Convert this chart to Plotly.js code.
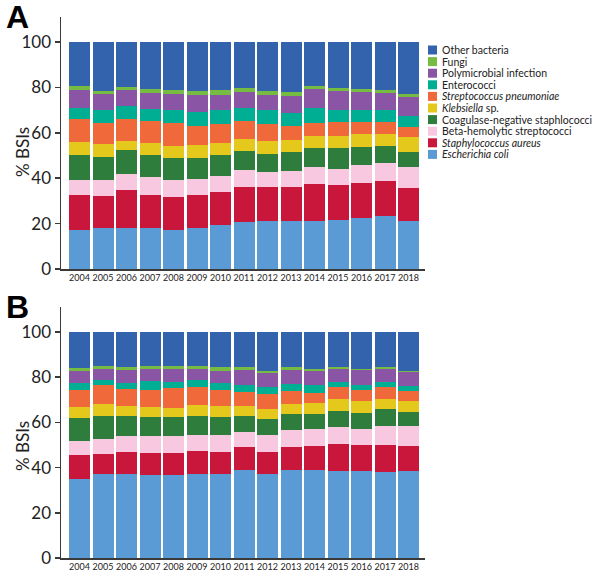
<!DOCTYPE html>
<html>
<head>
<meta charset="utf-8">
<script src="https://cdn.plot.ly/plotly-3.0.1.min.js"></script>
<style>html,body{margin:0;padding:0;background:#fff;}#chart{width:600px;height:587px;}</style>
</head>
<body>
<div id="chart"></div>
<script>
var years = ["2004","2005","2006","2007","2008","2009","2010","2011","2012","2013","2014","2015","2016","2017","2018"];

// Categories, bottom of stack first
var categories = ["Escherichia coli","Staphylococcus aureus","Beta-hemolytic streptococci","Coagulase-negative staphlococci","Klebsiella sp.","Streptococcus pneumoniae","Enterococci","Polymicrobial infection","Fungi","Other bacteria"];
var legendLabels = ["<i>Escherichia coli</i>","<i>Staphylococcus aureus</i>","Beta-hemolytic streptococci","Coagulase-negative staphlococci","<i>Klebsiella</i> sp.","<i>Streptococcus pneumoniae</i>","Enterococci","Polymicrobial infection","Fungi","Other bacteria"];

// Panel A values (% BSIs)
var A_ecoli   = [17.0,17.9,17.9,17.9,17.2,18.1,19.6,20.9,21.2,21.2,21.2,21.6,22.5,23.2,21.2];
var A_saureus = [15.4,14.1,16.7,14.9,14.4,14.5,14.2,15.4,15.1,14.8,16.3,15.6,15.3,15.5,14.5];
var A_betahem = [6.6,7.0,7.4,7.6,7.4,7.1,7.1,7.1,6.6,7.1,7.4,6.9,8.1,7.9,9.2];
var A_cons    = [11.0,10.3,10.2,10.0,9.8,9.3,9.1,8.4,7.7,8.4,8.3,9.1,7.8,7.4,6.6];
var A_kleb    = [5.9,5.6,4.4,5.0,5.6,5.6,5.7,5.6,6.0,5.4,5.3,5.6,5.7,5.6,6.6];
var A_pneumo  = [10.3,9.4,9.6,9.6,10.0,8.6,8.0,7.6,7.1,6.3,5.9,5.9,5.5,5.3,4.4];
var A_entero  = [4.8,5.6,5.4,5.6,5.5,5.9,6.2,5.9,6.2,5.6,6.5,5.4,5.2,5.2,4.9];
var A_poly    = [8.0,7.0,7.1,7.0,7.2,7.4,6.9,7.0,6.9,7.2,8.2,8.1,7.8,7.5,8.3];
var A_fungi   = [1.6,1.3,1.4,1.7,1.9,1.9,1.9,1.8,1.6,1.9,1.5,1.5,1.2,1.1,1.2];
var A_other   = [19.4,21.8,19.9,20.7,21.0,21.6,21.3,20.3,21.6,22.1,19.4,20.3,20.9,21.3,23.1];

// Panel B values (% BSIs)
var B_ecoli   = [35.0,37.0,37.0,36.8,36.8,37.3,37.3,38.9,37.0,38.7,38.7,38.4,38.4,38.1,38.4];
var B_saureus = [10.5,8.8,10.0,9.7,9.7,10.0,9.5,10.1,10.0,10.3,10.8,11.8,11.4,11.7,11.1];
var B_betahem = [6.2,6.9,6.9,7.4,7.4,7.0,7.8,6.8,7.6,7.6,7.6,7.7,7.3,8.5,8.8];
var B_cons    = [10.0,10.3,9.1,8.5,8.4,8.7,7.8,7.2,6.7,7.2,6.7,7.3,7.1,7.4,6.2];
var B_kleb    = [5.2,5.2,4.2,4.3,4.1,4.5,4.8,4.2,4.8,4.4,4.8,5.2,5.2,4.8,4.9];
var B_pneumo  = [7.6,8.1,7.6,7.4,8.9,8.2,7.3,6.1,6.5,5.6,4.4,5.2,4.8,5.1,4.4];
var B_entero  = [2.7,2.6,2.7,4.1,2.5,3.2,2.7,3.4,3.1,3.2,3.4,2.2,2.5,2.2,2.2];
var B_poly    = [5.4,4.9,5.6,5.5,5.6,4.9,5.7,6.4,6.2,6.1,6.2,5.9,6.4,5.9,6.3];
var B_fungi   = [1.5,1.3,1.3,1.1,1.4,1.0,1.5,1.3,1.0,1.3,1.1,0.8,0.7,0.8,0.6];
var B_other   = [15.9,14.9,15.6,15.2,15.2,15.2,15.6,15.6,17.1,15.6,16.3,15.5,16.2,15.5,17.1];

var colors = ["#5b9bd5","#c8173a","#f7c8df","#2f7d3c","#e5c81c","#f0693a","#00ae94","#8a55a5","#76bc43","#3463ae"];

var seriesA = [A_ecoli,A_saureus,A_betahem,A_cons,A_kleb,A_pneumo,A_entero,A_poly,A_fungi,A_other];
var seriesB = [B_ecoli,B_saureus,B_betahem,B_cons,B_kleb,B_pneumo,B_entero,B_poly,B_fungi,B_other];

var traces = [];
seriesA.forEach(function(vals,i){
  traces.push({type:"bar",x:years,y:vals,name:categories[i],marker:{color:colors[i],line:{width:0}},xaxis:"x",yaxis:"y",showlegend:false,hoverinfo:"name+y"});
});
seriesB.forEach(function(vals,i){
  traces.push({type:"bar",x:years,y:vals,name:categories[i],marker:{color:colors[i],line:{width:0}},xaxis:"x2",yaxis:"y2",showlegend:false,hoverinfo:"name+y"});
});

// pixel -> paper helpers (plot area: left 61, width 364, top 17, height 541)
var L=61, W=364, T=17, H=541;
function px(x){return (x-L)/W;}
function py(y){return (T+H-y)/H;}

var FONT = "Lato, 'Open Sans', sans-serif";
var axisCommon = {
  showline:true, linecolor:"#3a3a3a", linewidth:1.5, showgrid:false, zeroline:false
};
function xax(anchor){
  return Object.assign({}, axisCommon, {anchor:anchor, type:"category", range:[-0.79,14.7], ticks:"", tickangle:0, tickfont:{family:FONT,size:9,color:"#222"}, fixedrange:true});
}
function yax(anchor, dom){
  return Object.assign({}, axisCommon, {anchor:anchor, domain:dom, range:[0,111], tickvals:[0,20,40,60,80,100], ticks:"outside", ticklen:5, tickwidth:1.5, tickcolor:"#3a3a3a", tickfont:{family:FONT,size:17,color:"#222"}});
}

var annotations = [
  {text:"<b>A</b>", xref:"paper", yref:"paper", x:px(17), y:py(17), xanchor:"center", yanchor:"middle", showarrow:false, font:{family:"Arial, 'Liberation Sans', sans-serif", size:32, color:"#000"}},
  {text:"<b>B</b>", xref:"paper", yref:"paper", x:px(17), y:py(307), xanchor:"center", yanchor:"middle", showarrow:false, font:{family:"Arial, 'Liberation Sans', sans-serif", size:32, color:"#000"}},
  {text:"% BSIs", xref:"paper", yref:"paper", x:px(22), y:py(152), xanchor:"center", yanchor:"middle", textangle:-90, showarrow:false, font:{family:FONT,size:17,color:"#222"}},
  {text:"% BSIs", xref:"paper", yref:"paper", x:px(22), y:py(446), xanchor:"center", yanchor:"middle", textangle:-90, showarrow:false, font:{family:FONT,size:17,color:"#222"}}
];
var shapes = [];
// legend built from categories (top entry = last category)
for (var k=0;k<categories.length;k++){
  var idx = categories.length-1-k;
  var cy = 50 + k*11.6;
  shapes.push({type:"rect", xref:"paper", yref:"paper", x0:px(428), x1:px(437), y0:py(cy+4.5), y1:py(cy-4.5), fillcolor:colors[idx], line:{width:0}});
  annotations.push({text:legendLabels[idx], xref:"paper", yref:"paper", x:px(441), y:py(cy), xanchor:"left", yanchor:"middle", showarrow:false, borderpad:0, font:{family:FONT,size:10.5,color:"#222"}});
}

var layout = {
  width:600, height:587,
  margin:{l:L, r:600-L-W, t:T, b:587-T-H},
  paper_bgcolor:"#fff", plot_bgcolor:"#fff",
  barmode:"stack", bargap:0.11,
  showlegend:false,
  xaxis:xax("y"),
  yaxis:yax("x",[py(269),1]),
  xaxis2:xax("y2"),
  yaxis2:yax("x2",[0,py(307)]),
  annotations:annotations,
  shapes:shapes,
  font:{family:FONT}
};

Plotly.newPlot("chart", traces, layout, {displayModeBar:false, staticPlot:true});
</script>
</body>
</html>
